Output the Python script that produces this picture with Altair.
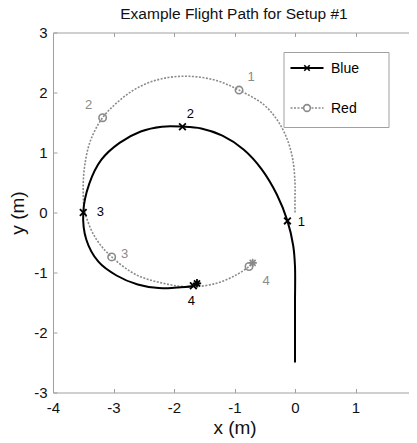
import altair as alt
import pandas as pd

# ---- data ----
blue_x = [0.0, 0.0, 0.0, -0.03, -0.125, -0.30, -0.55, -0.85, -1.20, -1.55, -1.86, -2.20, -2.55, -2.90,
          -3.20, -3.40, -3.50, -3.45, -3.25, -2.95, -2.60, -2.25, -1.95, -1.68, -1.62]
blue_y = [-2.5, -1.5, -0.9, -0.55, -0.14, 0.30, 0.72, 1.05, 1.28, 1.40, 1.43, 1.43, 1.35, 1.16,
          0.88, 0.48, 0.0, -0.45, -0.82, -1.05, -1.20, -1.26, -1.25, -1.22, -1.18]

red_x = [0.0, 0.0, 0.0, -0.04, -0.14, -0.30, -0.52, -0.925, -1.30, -1.75, -2.20, -2.60, -2.92, -3.18,
         -3.38, -3.48, -3.50, -3.47, -3.30, -3.03, -2.62, -2.18, -1.74, -1.30, -0.97, -0.76, -0.70]
red_y = [0.0, 0.25, 0.5, 0.90, 1.25, 1.55, 1.80, 2.04, 2.20, 2.27, 2.23, 2.08, 1.85, 1.58,
         1.20, 0.75, 0.30, 0.0, -0.42, -0.74, -1.04, -1.18, -1.24, -1.18, -1.04, -0.90, -0.84]

blue_mx = [-0.125, -1.86, -3.50, -1.68]
blue_my = [-0.14, 1.43, 0.0, -1.22]
red_mx = [-0.925, -3.18, -3.03, -0.76]
red_my = [2.04, 1.58, -0.74, -0.90]
marker_labels = ["1", "2", "3", "4"]

blue_end_x = [-1.62]
blue_end_y = [-1.18]
red_end_x = [-0.70]
red_end_y = [-0.84]

x_ticks = [-4, -3, -2, -1, 0, 1, 2]
y_ticks = [-3, -2, -1, 0, 1, 2, 3]

chart_title = "Example Flight Path for Setup #1"

# ---- styling ----
W, H = 363, 360
FONT = "Liberation Sans"
FRAME = "#a0a0a0"
GRAY = "#8a8a8a"
XPATH = "M-1,-1L1,1M-1,1L1,-1"
STAR = "M0,-1L0,1M-1,0L1,0M-0.72,-0.72L0.72,0.72M-0.72,0.72L0.72,-0.72"

xs = alt.Scale(domain=[-4, 2], nice=False, zero=False)
ys = alt.Scale(domain=[-3, 3], nice=False, zero=False)


def X(axis=None):
    return alt.X("x:Q", scale=xs, axis=axis)


def Y(axis=None):
    return alt.Y("y:Q", scale=ys, axis=axis)


main_x = alt.Axis(orient="bottom", values=x_ticks, labelExpr="datum.value + ''", ticks=False,
                  tickSize=0, domain=False, grid=False, labelFontSize=15, labelFont=FONT,
                  labelColor="#111", labelPadding=8, labelFlush=False, title="x (m)", titleFont=FONT,
                  titleFontSize=19, titleFontWeight="normal", titleColor="#111", titlePadding=3)
main_y = alt.Axis(orient="left", values=y_ticks, labelExpr="datum.value + ''", ticks=False,
                  tickSize=0, domain=False, grid=False, labelFontSize=15, labelFont=FONT,
                  labelColor="#111", labelPadding=6, labelFlush=False, title="y (m)", titleFont=FONT,
                  titleFontSize=19, titleFontWeight="normal", titleColor="#111", titlePadding=6)


def tick_axis(orient, offset, values):
    return alt.Axis(orient=orient, offset=offset, values=values, labels=False, domain=False,
                    grid=False, ticks=True, tickSize=4, tickColor=FRAME, tickWidth=1, title=None)


bx_in = tick_axis("top", -H, x_ticks)      # bottom edge, ticks pointing up
tx_in = tick_axis("bottom", -H, x_ticks)   # top edge, ticks pointing down
ly_in = tick_axis("right", -W, y_ticks)    # left edge, ticks pointing right
ry_in = tick_axis("left", -W, y_ticks)     # right edge, ticks pointing left

blue_df = pd.DataFrame({"x": blue_x, "y": blue_y, "o": list(range(len(blue_x)))})
red_df = pd.DataFrame({"x": red_x, "y": red_y, "o": list(range(len(red_x)))})
bm_df = pd.DataFrame({"x": blue_mx, "y": blue_my, "t": marker_labels})
rm_df = pd.DataFrame({"x": red_mx, "y": red_my, "t": marker_labels})
be_df = pd.DataFrame({"x": blue_end_x, "y": blue_end_y})
re_df = pd.DataFrame({"x": red_end_x, "y": red_end_y})

red_line = alt.Chart(red_df).mark_line(
    color=GRAY, strokeWidth=1.6, strokeDash=[2, 1.5], interpolate="catmull-rom"
).encode(x=X(bx_in), y=Y(ly_in), order="o:Q")

blue_line = alt.Chart(blue_df).mark_line(
    color="black", strokeWidth=2, interpolate="catmull-rom"
).encode(x=X(main_x), y=Y(main_y), order="o:Q")

red_pts = alt.Chart(rm_df).mark_point(
    shape="circle", filled=False, stroke=GRAY, strokeWidth=1.6, size=55, opacity=1
).encode(x=X(tx_in), y=Y(ry_in))

blue_pts = alt.Chart(bm_df).mark_point(
    shape=XPATH, filled=False, stroke="black", strokeWidth=1.8, size=45, opacity=1
).encode(x=X(), y=Y())

red_end = alt.Chart(re_df).mark_point(
    shape=STAR, filled=False, stroke=GRAY, strokeWidth=1.6, size=70, opacity=1
).encode(x=X(), y=Y())

blue_end = alt.Chart(be_df).mark_point(
    shape=STAR, filled=False, stroke="black", strokeWidth=1.8, size=70, opacity=1
).encode(x=X(), y=Y())

# label offsets (pixels) for marker numbers
blue_off = [(14, 1), (8, -13), (17, -1), (-2, 15)]
red_off = [(12, -13), (-14, -13), (13, -3), (17, 14)]

label_layers = []
for i, (dx, dy) in enumerate(blue_off):
    label_layers.append(
        alt.Chart(bm_df.iloc[[i]]).mark_text(dx=dx, dy=dy, fontSize=13, font=FONT, color="black")
        .encode(x=X(), y=Y(), text="t:N"))
for i, (dx, dy) in enumerate(red_off):
    label_layers.append(
        alt.Chart(rm_df.iloc[[i]]).mark_text(dx=dx, dy=dy, fontSize=13, font=FONT, color=GRAY)
        .encode(x=X(), y=Y(), text="t:N"))

# ---- legend and title ----
leg = pd.DataFrame({"a": [0]})
leg_box = alt.Chart(leg).mark_rect(fill="white", stroke=FRAME, strokeWidth=1).encode(
    x=alt.value(231), x2=alt.value(336), y=alt.value(20), y2=alt.value(95))
leg_bline = alt.Chart(leg).mark_rule(color="black", strokeWidth=2).encode(
    x=alt.value(237.5), x2=alt.value(270.5), y=alt.value(35.5))
leg_bpt = alt.Chart(leg).mark_point(shape=XPATH, filled=False, stroke="black", strokeWidth=1.6,
                                     size=30, opacity=1).encode(x=alt.value(254), y=alt.value(35.5))
leg_btxt = alt.Chart(leg).mark_text(align="left", baseline="middle", fontSize=14, font=FONT,
                                     color="black").encode(
    x=alt.value(278), y=alt.value(36), text=alt.value("Blue"))
leg_rline = alt.Chart(leg).mark_rule(color=GRAY, strokeWidth=1.6, strokeDash=[2, 1.5]).encode(
    x=alt.value(237.5), x2=alt.value(270.5), y=alt.value(75.5))
leg_rpt = alt.Chart(leg).mark_point(shape="circle", filled=True, fill="white", stroke=GRAY,
                                     strokeWidth=1.6, size=45, opacity=1).encode(
    x=alt.value(254), y=alt.value(75.5))
leg_rtxt = alt.Chart(leg).mark_text(align="left", baseline="middle", fontSize=14, font=FONT,
                                     color="black").encode(
    x=alt.value(278), y=alt.value(76), text=alt.value("Red"))
title_txt = alt.Chart(leg).mark_text(align="center", baseline="alphabetic", fontSize=15.5,
                                      font=FONT, color="#111").encode(
    x=alt.value(181), y=alt.value(-13.5), text=alt.value(chart_title))

chart = alt.layer(
    red_line, blue_line, red_pts, blue_pts, red_end, blue_end, *label_layers,
    leg_box, leg_bline, leg_bpt, leg_btxt, leg_rline, leg_rpt, leg_rtxt, title_txt
).resolve_axis(x="independent", y="independent").properties(
    width=W, height=H,
    autosize=alt.AutoSizeParams(type="none"),
    padding={"left": 45, "top": 24.5, "right": -7.5, "bottom": 45},
).configure_view(stroke=FRAME, strokeWidth=1)

chart.save("out.html", embed_options={"renderer": "svg", "actions": False})
